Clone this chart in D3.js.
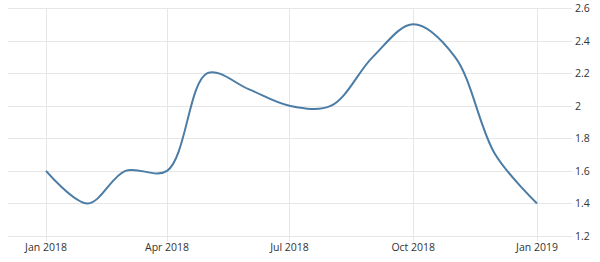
<!DOCTYPE html>
<html>
<head>
<meta charset="utf-8">
<script src="https://cdn.jsdelivr.net/npm/d3@7"></script>
<style>
  body { margin: 0; background: white; }
  text { font-family: "Open Sans", "Liberation Sans", sans-serif; font-size: 10.5px; fill: #333; }
</style>
</head>
<body>
<div id="main_content"></div>
<script>
var width = 600, height = 262;

// monthly values, Jan 2018 .. Jan 2019
var months = ['2018-01','2018-02','2018-03','2018-04','2018-05','2018-06','2018-07',
  '2018-08','2018-09','2018-10','2018-11','2018-12','2019-01'];
var values = [1.6, 1.4, 1.6, 1.6, 2.2, 2.1, 2.0, 2.0, 2.3, 2.5, 2.3, 1.7, 1.4];
var yTicks = [1.2, 1.4, 1.6, 1.8, 2, 2.2, 2.4, 2.6];
var xTicks = ['2018-01','2018-04','2018-07','2018-10','2019-01'];

var parse = d3.timeParse('%Y-%m');
var data = months.map(function(m, i) {
  return {date: parse(m), value: values[i]};
});

var svg = d3.select('#main_content').append('svg')
  .attr('width', width)
  .attr('height', height)
  .style('background', 'white');

var x = d3.scaleTime()
  .domain([parse('2018-01'), parse('2019-01')])
  .range([46, 537]);

var y = d3.scaleLinear()
  .domain([1.2, 2.6])
  .range([236, 8]);

var left = 8, right = 572;

// horizontal grid
svg.append('g').selectAll('line')
  .data(yTicks)
  .enter().append('line')
  .attr('x1', left)
  .attr('x2', right)
  .attr('y1', function(d) { return Math.round(y(d)) + 0.5; })
  .attr('y2', function(d) { return Math.round(y(d)) + 0.5; })
  .attr('stroke', '#e6e6e6');

// vertical grid
svg.append('g').selectAll('line')
  .data(xTicks)
  .enter().append('line')
  .attr('x1', function(d) { return Math.round(x(parse(d))) + 0.5; })
  .attr('x2', function(d) { return Math.round(x(parse(d))) + 0.5; })
  .attr('y1', 8)
  .attr('y2', 241)
  .attr('stroke', '#e6e6e6');

// y labels
svg.append('g').selectAll('text')
  .data(yTicks)
  .enter().append('text')
  .attr('x', 575)
  .attr('y', function(d) { return y(d) + 4; })
  .text(function(d) { return d; });

// x labels
var fmt = d3.timeFormat('%b %Y');
svg.append('g').selectAll('text')
  .data(xTicks)
  .enter().append('text')
  .attr('x', function(d) { return x(parse(d)); })
  .attr('y', 251)
  .attr('text-anchor', 'middle')
  .text(function(d) { return fmt(parse(d)); });

var line = d3.line()
  .x(function(d) { return x(d.date); })
  .y(function(d) { return y(d.value); })
  .curve(d3.curveCatmullRom.alpha(0.5));

svg.append('path')
  .datum(data)
  .attr('d', line)
  .attr('fill', 'none')
  .attr('stroke', '#4a7ca6')
  .attr('stroke-width', 2);
</script>
</body>
</html>
